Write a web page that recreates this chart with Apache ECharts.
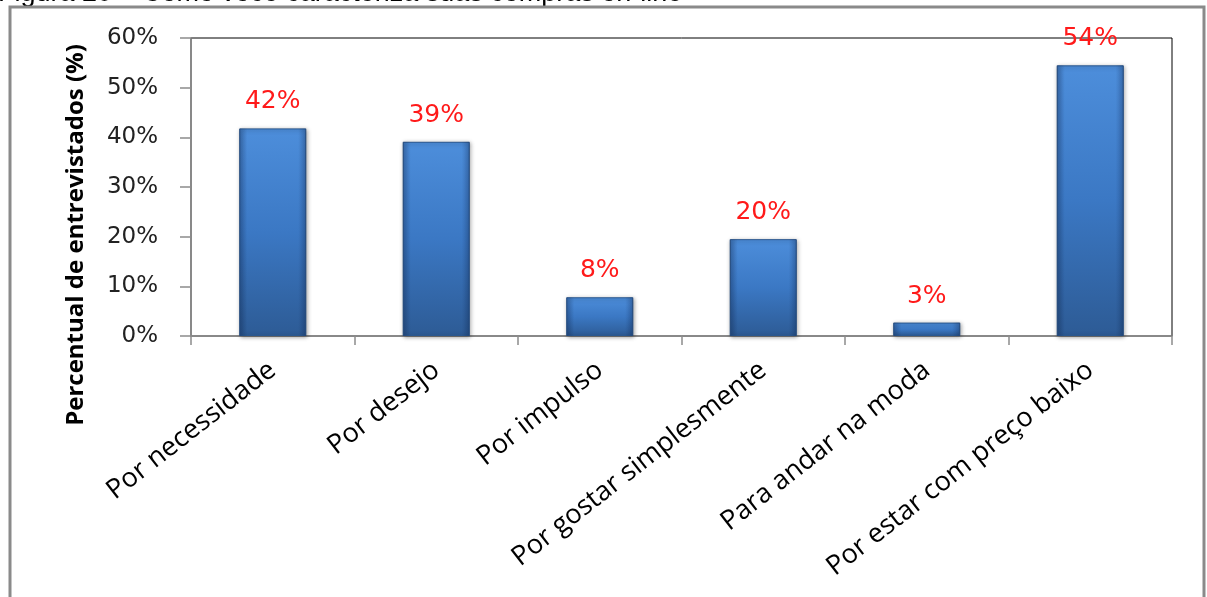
<!DOCTYPE html>
<html>
<head>
<meta charset="utf-8">
<script src="https://cdn.jsdelivr.net/npm/echarts@6/dist/echarts.min.js"></script>
<style>
html,body{margin:0;padding:0;background:#fff;}
#c{width:1207px;height:597px;}
</style>
</head>
<body>
<div id="c"></div>
<script>
const categories = ['Por necessidade','Por desejo','Por impulso','Por gostar simplesmente','Para andar na moda','Por estar com preço baixo'];
const values = [41.8, 39.1, 7.8, 19.5, 2.7, 54.5];
const valueLabels = ['42%','39%','8%','20%','3%','54%'];
const yTicks = [0, 10, 20, 30, 40, 50, 60];
const caption = 'Figura 20 – Como você caracteriza suas compras on-line';
const yTitle = 'Percentual de entrevistados (%)';

const chart = echarts.init(document.getElementById('c'));
const barFill = new echarts.graphic.LinearGradient(0, 0, 0, 1, [
  {offset: 0, color: '#4d8edb'},
  {offset: 0.5, color: '#3b78c4'},
  {offset: 1, color: '#2d5b95'}
]);
const edgeShade = new echarts.graphic.LinearGradient(0, 0, 1, 0, [
  {offset: 0, color: 'rgba(10,30,70,0.30)'},
  {offset: 0.12, color: 'rgba(10,30,70,0)'},
  {offset: 0.88, color: 'rgba(10,30,70,0)'},
  {offset: 1, color: 'rgba(10,30,70,0.30)'}
]);
chart.setOption({
  animation: false,
  backgroundColor: '#fff',
  graphic: [
    {type: 'text', left: -2, top: -20, z: 1,
     style: {text: caption, font: '27px "Liberation Sans", Arial, sans-serif', fill: '#000'}},
    {type: 'rect', z: 2, shape: {x: 10, y: 7, width: 1194, height: 640},
     style: {fill: 'none', stroke: '#8a8a8a', lineWidth: 3}},
    {type: 'text', z: 3, x: 76, y: 235, rotation: Math.PI / 2,
     style: {text: yTitle, font: 'bold 24px "Open Sans", sans-serif', fill: '#000',
             align: 'center', verticalAlign: 'middle'}}
  ],
  grid: {left: 191, right: 35, top: 38, bottom: 261, show: true,
         borderColor: '#000', borderWidth: 1, backgroundColor: 'transparent'},
  xAxis: {
    type: 'category', data: categories,
    axisLine: {lineStyle: {color: '#8c8c8c', width: 1.5}},
    axisTick: {show: true, length: 9, lineStyle: {color: '#8c8c8c', width: 1.5}},
    axisLabel: {rotate: 38, margin: 31, interval: 0, color: '#000',
                fontFamily: '"Open Sans", sans-serif', fontSize: 27}
  },
  yAxis: {
    type: 'value', min: 0, max: 60, interval: 10,
    axisLine: {show: true, lineStyle: {color: '#8c8c8c', width: 1.5}},
    axisTick: {show: true, length: 11, lineStyle: {color: '#8c8c8c', width: 1.5}},
    splitLine: {show: false},
    axisLabel: {margin: 33, color: '#222', fontFamily: '"DejaVu Sans", sans-serif', fontSize: 23,
                formatter: v => yTicks.includes(v) ? v + '%' : ''}
  },
  series: [{
    type: 'bar', data: values, barWidth: 67,
    itemStyle: {color: barFill, borderColor: '#2a5890', borderWidth: 1,
                shadowColor: 'rgba(0,0,0,0.35)', shadowBlur: 4, shadowOffsetX: 1, shadowOffsetY: 1},
    label: {show: true, position: 'top', distance: 14, color: '#ff1a1a',
            fontFamily: '"DejaVu Sans", sans-serif', fontSize: 25,
            formatter: p => valueLabels[p.dataIndex]}
  }, {
    type: 'bar', data: values, barWidth: 67, barGap: '-100%', silent: true,
    itemStyle: {color: edgeShade}
  }]
});
</script>
</body>
</html>
